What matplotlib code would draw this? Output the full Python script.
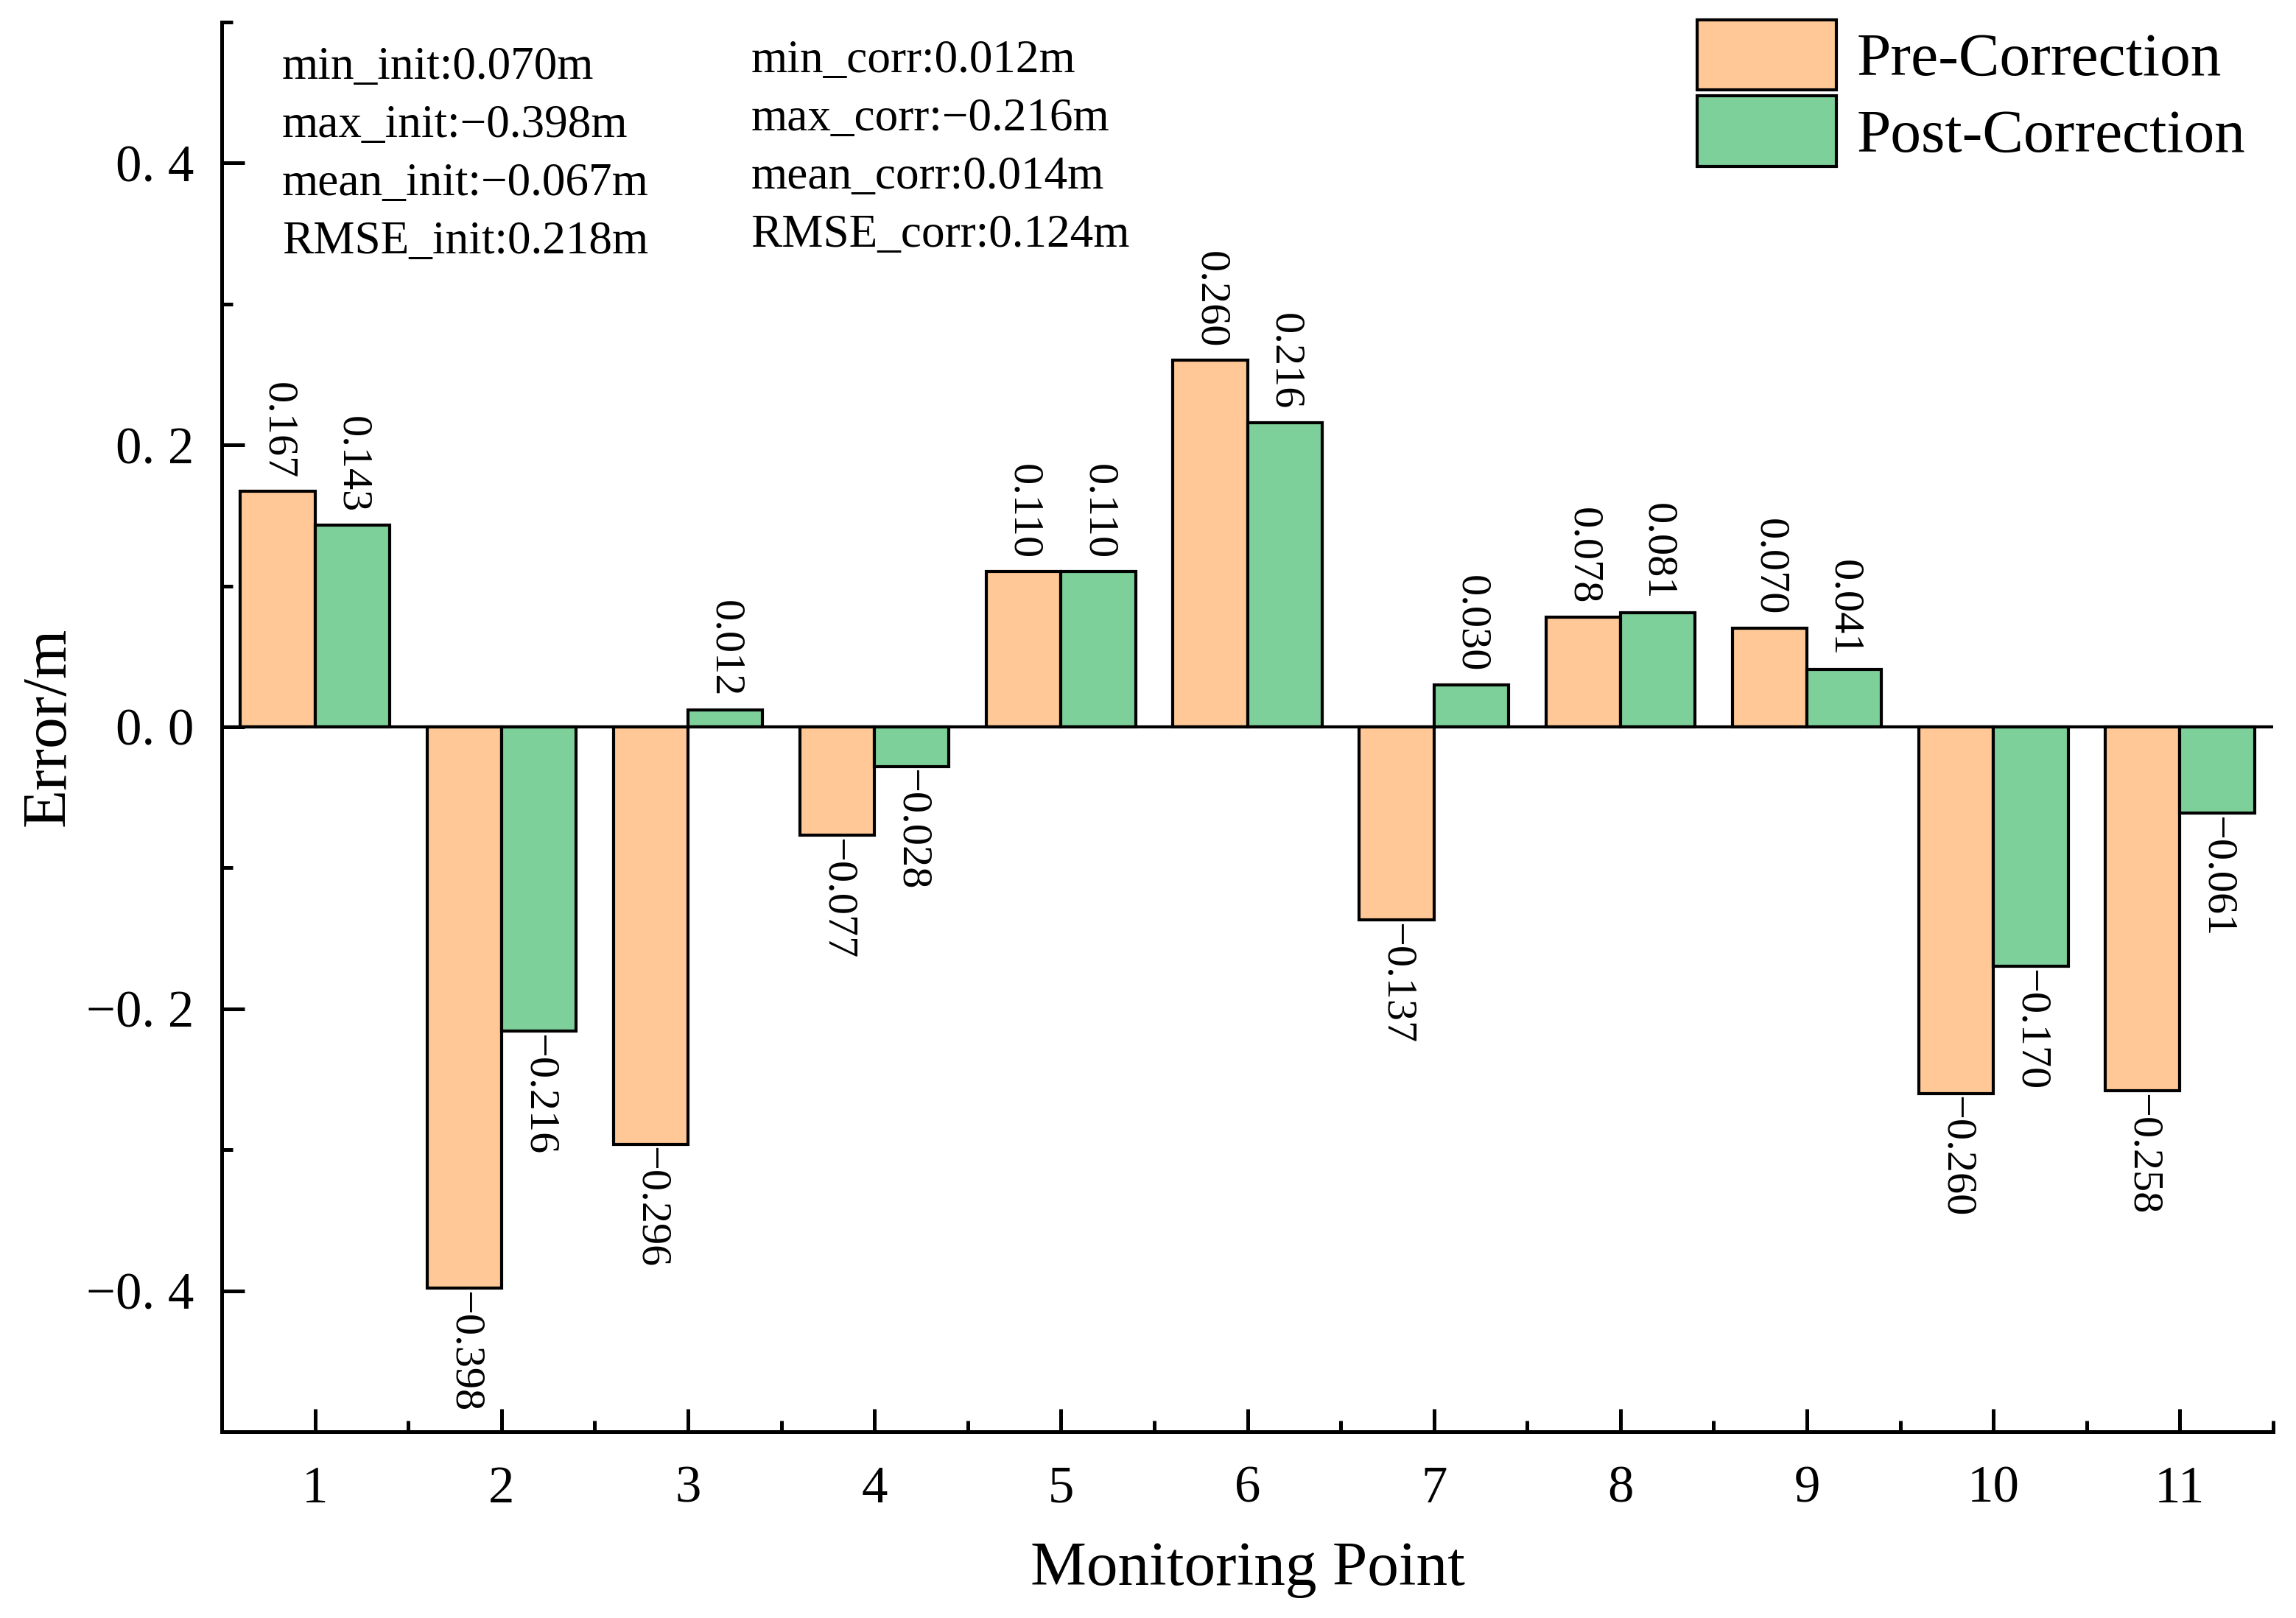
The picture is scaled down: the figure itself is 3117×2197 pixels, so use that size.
import matplotlib
matplotlib.use("Agg")
import matplotlib.pyplot as plt
import numpy as np
from matplotlib.ticker import MultipleLocator

plt.rcParams['font.family'] = ['Liberation Serif', 'DejaVu Serif']
plt.rcParams['axes.unicode_minus'] = True

# data
points = [1, 2, 3, 4, 5, 6, 7, 8, 9, 10, 11]
pre_corr = [0.167, -0.398, -0.296, -0.077, 0.110, 0.260, -0.137, 0.078, 0.070, -0.260, -0.258]
post_corr = [0.143, -0.216, 0.012, -0.028, 0.110, 0.216, 0.030, 0.081, 0.041, -0.170, -0.061]
y_ticks = [-0.4, -0.2, 0.0, 0.2, 0.4]

stats_init = ["min_init:0.070m", "max_init:\u22120.398m", "mean_init:\u22120.067m", "RMSE_init:0.218m"]
stats_corr = ["min_corr:0.012m", "max_corr:\u22120.216m", "mean_corr:0.014m", "RMSE_corr:0.124m"]

c_pre = "#FFC896"
c_post = "#7ED09A"

fig = plt.figure(figsize=(3117 / 300, 2197 / 300), dpi=300)
ax = fig.add_axes([301 / 3117, 253 / 2197, 2785 / 3117, 1914 / 2197])

x = np.array(points)
w = 0.4
ax.bar(x - w / 2, pre_corr, w, color=c_pre, edgecolor="black", linewidth=1.0, label="Pre-Correction")
ax.bar(x + w / 2, post_corr, w, color=c_post, edgecolor="black", linewidth=1.0, label="Post-Correction")


def fmt(v):
    s = "%.3f" % abs(v)
    return ("\u2212" + s) if v < 0 else s


# value labels, rotated
for xs, vals in ((x - w / 2, pre_corr), (x + w / 2, post_corr)):
    for xi, v in zip(xs, vals):
        if v >= 0:
            ax.text(xi, v + 0.009, fmt(v), rotation=270, ha="center", va="bottom", fontsize=14)
        else:
            ax.text(xi, v - 0.002, fmt(v), rotation=270, ha="center", va="top", fontsize=14)

ax.set_xlim(0.5, 11.5)
ax.set_ylim(-0.5, 0.5)
ax.set_xticks(points)
ax.set_xticklabels([str(p) for p in points], fontsize=17)
ax.xaxis.set_minor_locator(MultipleLocator(0.5))
ax.set_yticks(y_ticks)
ax.set_yticklabels([("\u2212" if t < 0 else "") + "0. %d" % round(abs(t) * 10) for t in y_ticks], fontsize=17)
ax.yaxis.set_minor_locator(MultipleLocator(0.1))

ax.tick_params(which="major", direction="in", length=7.5, width=1.2)
ax.tick_params(which="minor", direction="in", length=3.7, width=1.2)
ax.tick_params(axis="x", which="both", pad=11)
ax.tick_params(axis="y", which="both", pad=9)

for s in ("top", "right"):
    ax.spines[s].set_visible(False)
for s in ("left", "bottom"):
    ax.spines[s].set_linewidth(1.2)

ax.axhline(0, color="black", linewidth=1.0)

ax.set_xlabel("Monitoring Point", fontsize=20.5)
ax.set_ylabel("Error/m", fontsize=20.5)
ax.xaxis.set_label_coords(0.5, -0.078)
ax.yaxis.set_label_coords(-0.070, 0.5)

# statistics text
for i, s in enumerate(stats_init):
    ax.text(0.0294, 0.9598 - i * 0.0413, s, transform=ax.transAxes, fontsize=15.2, va="baseline")
for i, s in enumerate(stats_corr):
    ax.text(0.258, 0.9645 - i * 0.0413, s, transform=ax.transAxes, fontsize=15.2, va="baseline")

ax.legend(loc="upper left", bbox_to_anchor=(0.7192, 1.0016), frameon=False, fontsize=20,
          borderaxespad=0, borderpad=0, handlelength=2.27, handleheight=1.38,
          handletextpad=0.33, labelspacing=0.1)

fig.savefig("out.png", dpi=300, facecolor="white")
